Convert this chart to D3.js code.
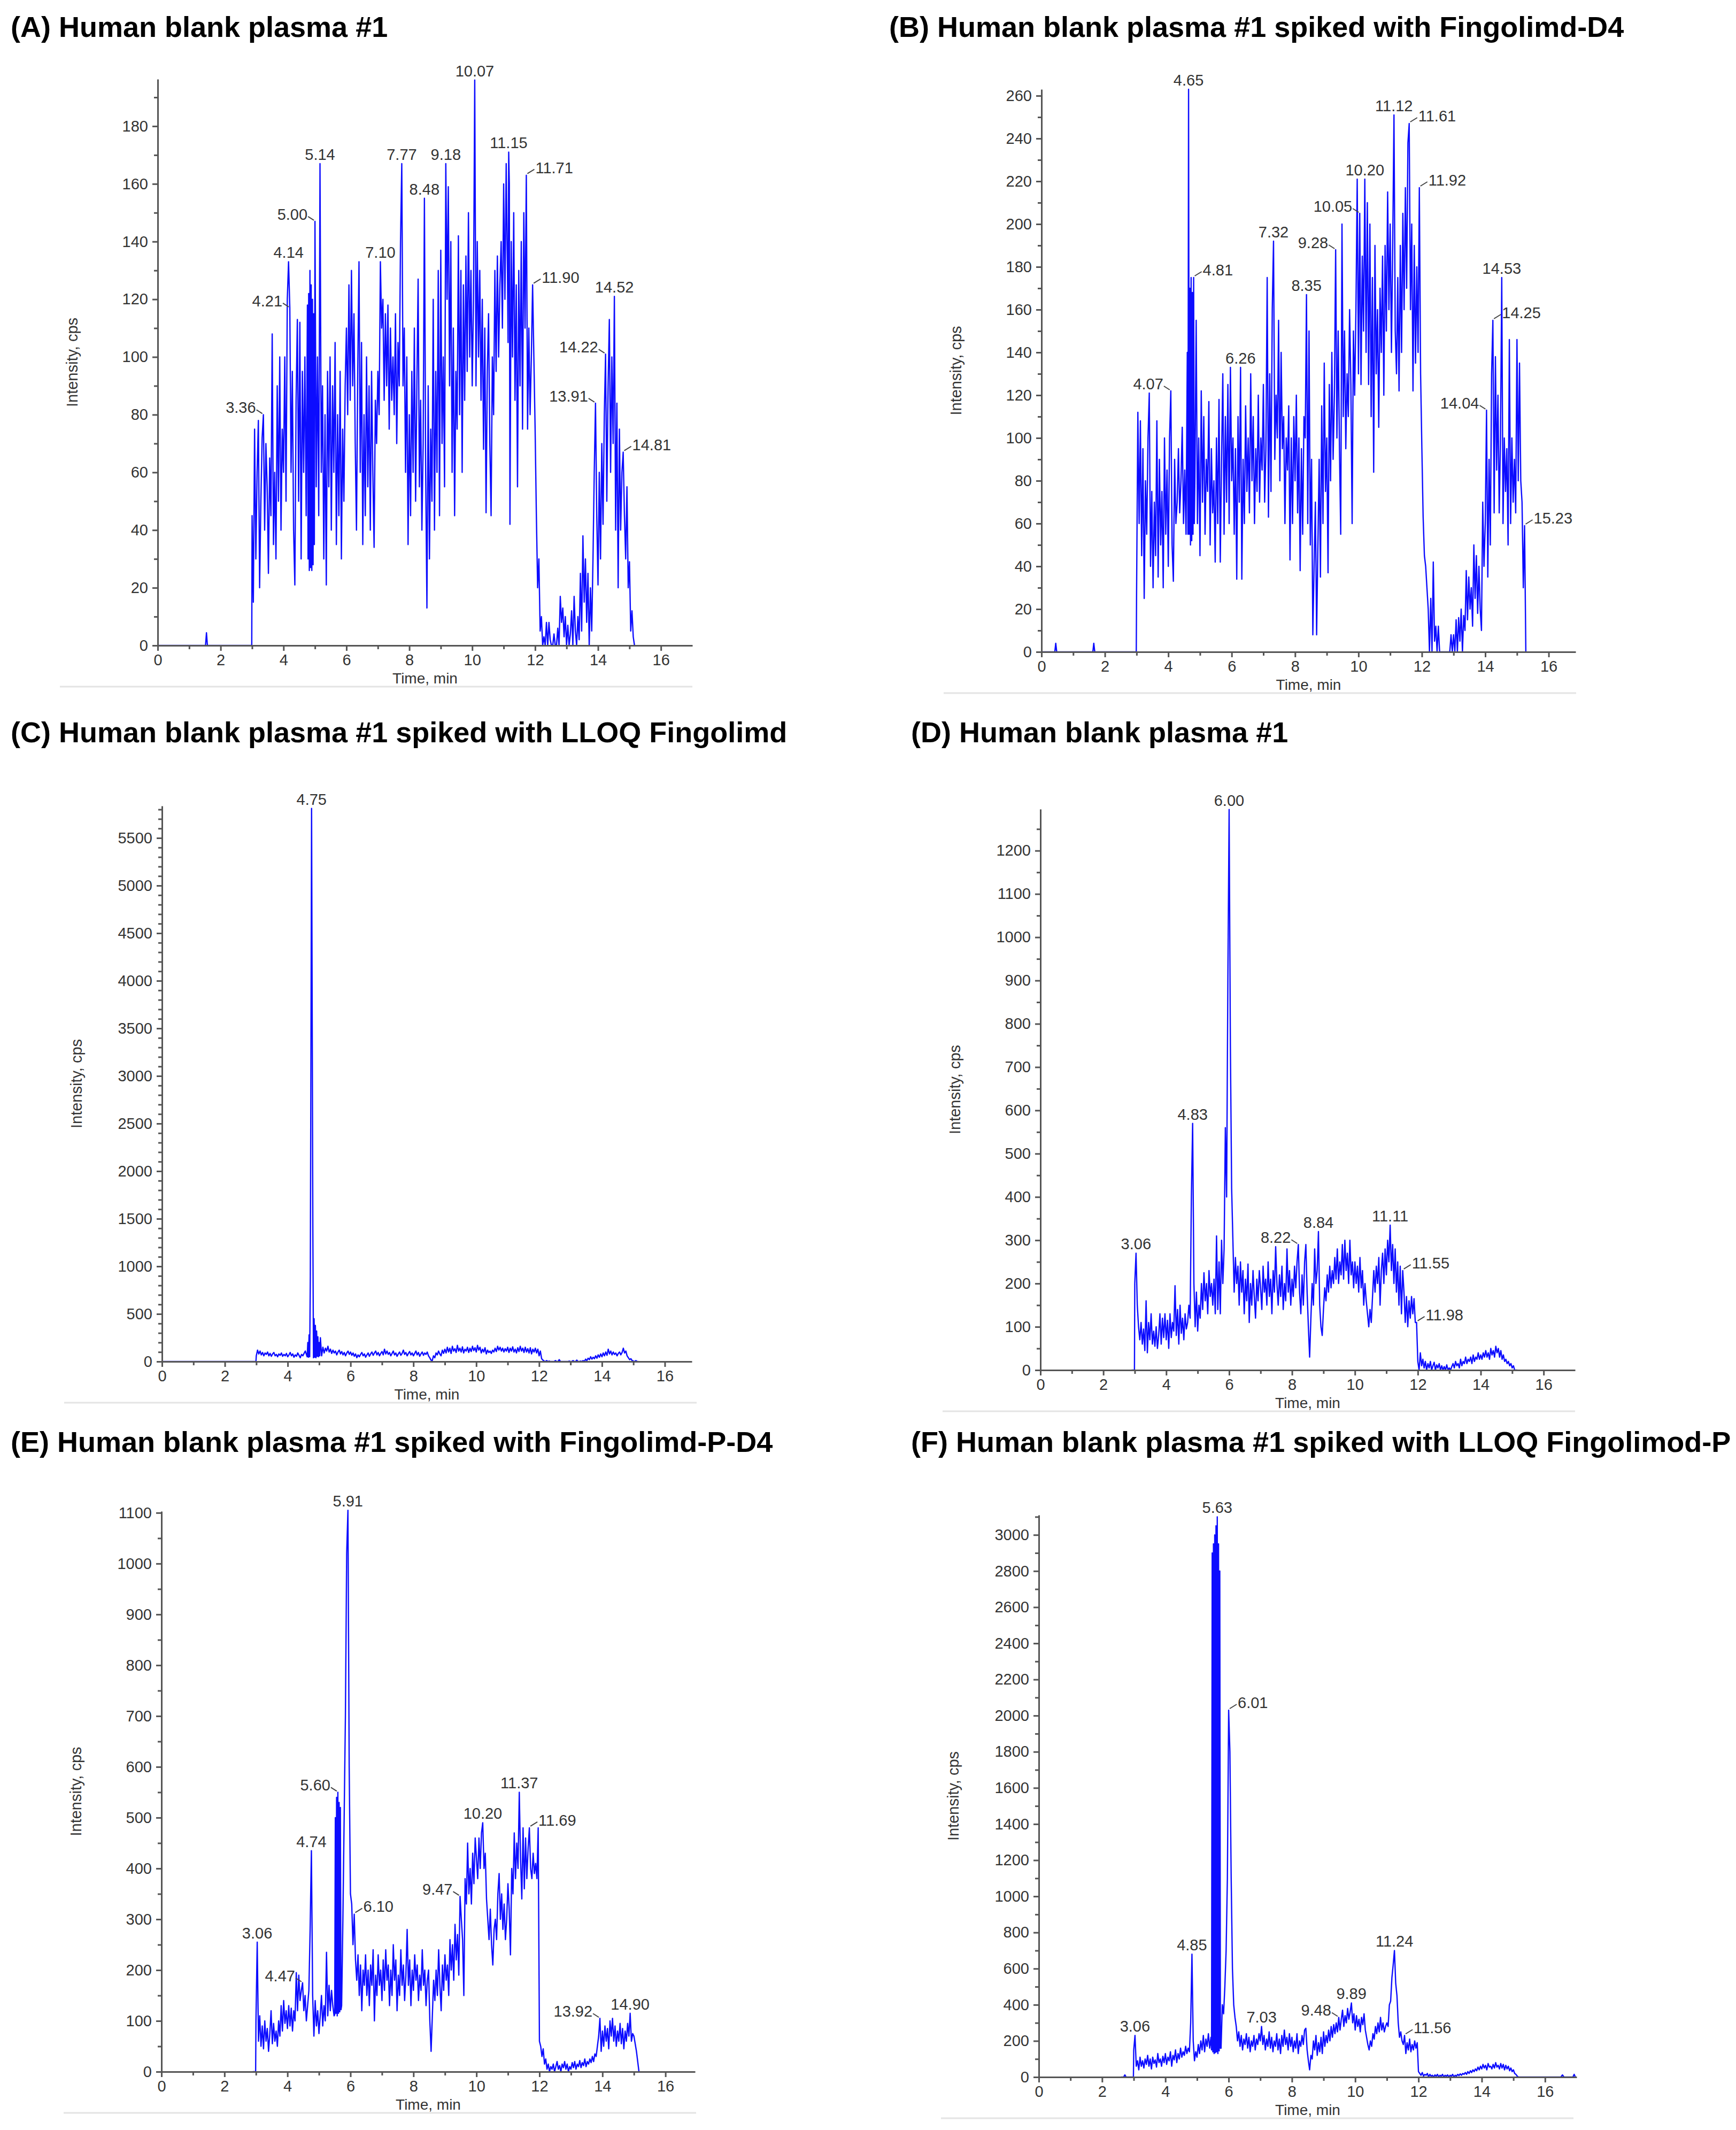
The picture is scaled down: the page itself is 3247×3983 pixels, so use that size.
<!DOCTYPE html>
<html><head><meta charset="utf-8">
<script src="https://cdn.jsdelivr.net/npm/d3@7"></script>
<style>body{margin:0;background:#fff}svg{display:block}</style>
</head><body>
<svg id="c" width="3247" height="3983"></svg>
<script>
// ---------------- DATA ----------------
const titles = [
  "(A) Human blank plasma #1",
  "(B) Human blank plasma #1 spiked with Fingolimd-D4",
  "(C) Human blank plasma #1 spiked with LLOQ Fingolimd",
  "(D) Human blank plasma #1",
  "(E) Human blank plasma #1 spiked with Fingolimd-P-D4",
  "(F) Human blank plasma #1 spiked with LLOQ Fingolimod-P"
];
const xAxisTitle = "Time, min";
const yAxisTitle = "Intensity, cps";
const xTickLabels = [0, 2, 4, 6, 8, 10, 12, 14, 16];

// sampling grid of each trace (min)
const gridStart = 3.0, gridStep = 0.04;

// axis ranges per panel (A..F)
const xMax = [17, 16.85, 16.86, 17, 16.94, 17];
const yMax = [196.3, 263, 5837, 1296, 1103, 3110];
const yMajorStep = [20, 20, 500, 100, 100, 200];
const yMinorStep = [10, 10, 100, 50, 50, 100];

// intensities (cps) from 3.00 min every 0.04 min
const intensityA = [
 45,15,75,30,60,78,20,50,72,80,40,70,55,25,65,45,108,35,60,30,90,50,100,40,75,
 60,100,50,120,133,117,60,95,40,21,85,113,50,112,30,95,60,100,45,118,122,130,125,120,115,
 147,55,100,45,167,60,90,30,80,21,95,55,100,40,90,60,105,35,80,45,95,30,75,50,90,
 110,80,125,85,130,90,115,70,40,95,133,60,105,35,80,45,100,55,90,40,95,60,34,85,70,
 95,80,133,110,120,85,115,90,118,75,110,85,100,80,115,70,105,90,140,167,90,110,60,100,35,
 80,45,95,60,110,50,90,127,55,85,40,70,155,60,13,90,30,75,50,120,40,95,60,130,45,
 137,70,100,55,167,120,159,90,140,60,110,45,95,75,142,80,130,60,125,85,135,95,150,100,130,
 90,120,196,90,140,100,130,85,120,68,110,46,95,115,70,45,100,80,130,95,135,100,125,140,110,
 160,120,167,130,171,42,140,100,150,85,125,55,130,90,140,75,150,110,163,75,110,80,100,125,100,
 75,45,20,30,5,10,0,3,0,8,0,8,2,0,0,4,0,0,6,0,17,8,13,3,10,
 0,7,0,4,12,0,17,5,0,10,2,25,5,38,15,30,8,25,0,20,5,30,60,84,45,
 21,60,30,70,42,80,101,50,90,113,60,100,70,121,40,84,20,75,40,60,67,45,30,55,20,
 29,5,12,3,0
];
const extraA = [[0,0],[1.52,0],[1.55,4.4],[1.58,0],[2.99,0],
  [4.78,30],[4.82,26],[4.86,27],[4.90,26],[4.94,28],[4.98,35],[11.14,105],[11.18,160]];
const peaksA = [["3.36","l"],["4.14","c"],["4.21","l"],["5.00","l"],["5.14","c"],["7.10","c"],["7.77","c"],["8.48","c"],["9.18","c"],["10.07","c"],["11.15","c"],["11.71","r"],["11.90","r"],["13.91","l"],["14.22","l"],["14.52","c"],["14.81","r"]];

const intensityB = [
 28,112,60,108,45,95,25,80,55,100,121,40,75,30,70,45,108,35,90,50,75,30,100,55,85,
 40,100,122,50,33,90,60,70,95,65,80,105,60,85,55,140,263,170,175,168,175,80,155,60,100,
 45,122,70,110,55,90,75,117,50,95,65,80,42,100,60,118,42,90,130,55,110,70,125,60,133,
 80,100,55,95,34,110,70,133,34,90,60,115,75,100,65,130,80,110,60,95,75,120,70,100,85,
 125,70,95,175,63,130,75,160,192,90,120,100,155,80,140,95,110,60,100,85,115,43,100,60,110,
 80,120,65,100,38,95,55,110,100,167,60,150,50,90,8,40,70,8,50,90,35,115,60,135,75,
 100,37,125,80,140,90,120,188,100,150,95,55,200,110,150,95,130,110,160,125,60,150,120,160,221,
 130,205,125,185,150,221,140,210,125,200,110,175,84,190,130,160,105,170,140,185,120,190,150,215,160,
 200,140,190,251,150,130,175,122,190,140,205,160,217,170,238,247,160,200,122,190,135,180,140,217,130,
 95,63,45,40,30,20,0,25,0,42,5,12,0,12,0,0,0,0,0,0,0,0,0,8,0,
 8,0,15,0,16,5,20,0,17,10,38,15,35,20,30,12,50,25,45,18,40,20,10,70,40,
 60,113,35,90,50,130,155,65,138,85,120,65,100,175,60,100,75,95,50,146,60,100,70,90,65,
 146,80,135,80,70,30,59,0
];
const extraB = [[0,0],[0.42,0],[0.45,4],[0.48,0],[1.62,0],[1.65,4],[1.68,0],[2.99,0],
  [4.62,55],[4.66,55],[4.70,50],[4.74,52],[4.78,55],[4.82,60]];
const peaksB = [["4.07","l"],["4.65","c"],["4.81","r"],["6.26","c"],["7.32","c"],["8.35","c"],["9.28","l"],["10.05","l"],["10.20","c"],["11.12","c"],["11.61","r"],["11.92","r"],["14.04","l"],["14.25","r"],["14.53","c"],["15.23","r"]];

const intensityC = [
 60,120,80,110,70,95,60,90,75,100,60,85,55,80,95,60,75,50,80,65,90,55,75,60,85,
 50,70,95,60,80,45,70,55,90,65,40,75,60,85,110,70,200,280,900,5810,1400,450,380,320,260,
 200,250,60,150,90,140,110,160,100,130,85,120,90,110,70,100,120,80,105,70,95,60,90,110,75,
 100,65,90,55,80,40,70,50,75,95,60,80,45,70,90,55,80,100,65,90,110,70,95,60,85,
 105,70,130,80,110,75,95,60,85,110,70,90,55,80,100,65,85,120,75,95,60,85,105,70,90,
 60,85,110,70,95,55,80,100,65,90,75,100,60,40,15,10,60,40,90,70,110,80,60,120,85,
 130,90,150,100,140,85,160,110,135,95,170,110,140,100,155,90,130,110,150,95,140,105,160,115,145,
 100,170,120,150,90,130,100,145,80,120,95,110,85,120,100,140,105,160,120,150,110,140,100,135,110,
 150,95,140,110,155,100,130,90,145,105,160,110,140,95,150,100,135,90,145,80,130,100,140,90,130,
 60,110,30,15,5,0,10,0,5,0,0,0,0,10,0,0,20,0,0,0,0,0,0,0,5,
 0,0,10,0,0,15,0,0,5,0,10,0,25,10,35,20,50,25,45,30,60,35,70,45,80,
 50,90,60,100,65,130,80,110,70,100,75,90,60,85,100,70,95,140,90,110,60,40,20,30,10,
 5,0,10,0,0
];
const extraC = [[0,0],[2.99,0],
  [4.62,50],[4.66,45],[4.70,50],[4.82,40],[4.86,45],[4.90,40],[4.94,55],[4.98,50],[5.02,60]];
const peaksC = [["4.75","c"]];

const intensityD = [
 200,270,150,100,70,110,60,95,45,160,40,110,70,130,60,90,55,100,50,80,130,60,120,75,130,
 70,115,50,130,75,110,90,195,80,140,60,150,85,120,70,130,95,110,150,120,400,570,200,100,180,
 90,150,120,200,140,225,160,200,130,230,170,200,150,210,130,310,140,250,130,300,200,280,560,400,900,
 1295,750,420,300,180,260,200,240,150,250,180,230,130,210,160,245,110,200,150,230,170,120,210,160,230,
 190,140,240,180,210,150,250,170,210,130,230,180,285,200,150,220,170,240,140,200,160,280,180,230,150,
 210,170,240,190,250,290,180,130,220,150,250,290,180,100,30,120,200,150,280,200,230,320,150,100,80,
 140,190,160,220,180,240,190,230,200,260,210,280,200,250,220,290,210,300,230,270,200,300,220,250,190,
 250,200,240,180,260,190,230,150,200,160,130,100,140,110,170,230,180,240,200,260,150,230,270,200,280,
 220,300,250,335,230,290,200,280,180,250,150,240,130,230,180,110,170,100,160,120,170,130,165,110,110,
 20,0,40,10,25,5,20,0,15,5,20,0,10,18,0,12,5,15,0,10,0,8,0,12,0,
 5,0,8,15,5,20,10,15,5,25,10,20,15,30,15,25,20,30,15,35,20,30,25,40,25,
 35,25,40,30,45,30,40,25,50,35,45,30,55,40,50,30,45,25,35,20,25,15,20,10,15,
 5,10,0,0,0
];
const extraD = [[2.9,0],[2.99,0]];
const peaksD = [["3.06","c"],["4.83","c"],["6.00","c"],["8.22","l"],["8.84","c"],["11.11","c"],["11.55","r"],["11.98","r"]];

const intensityE = [
 100,255,60,110,50,90,45,100,60,85,40,75,120,55,95,60,80,50,100,70,130,80,140,95,120,
 85,130,90,125,80,120,100,195,120,190,140,160,175,120,150,100,130,160,280,435,150,70,140,90,120,
 75,110,150,90,130,100,235,110,170,120,160,130,110,500,540,550,530,520,130,300,500,700,1020,1105,600,
 350,330,250,310,220,180,230,150,210,120,200,170,230,150,200,130,210,170,240,100,190,150,230,170,200,
 140,220,160,240,180,210,130,200,150,250,180,220,120,190,150,240,170,210,140,190,280,170,220,130,200,
 160,230,180,210,140,190,160,240,170,200,130,180,200,100,40,110,180,140,200,150,240,170,120,210,160,
 230,180,210,150,260,200,250,180,290,220,270,190,345,300,260,150,380,330,450,350,400,330,430,370,460,
 420,380,460,400,470,490,400,430,340,300,260,320,250,210,280,300,260,350,390,300,350,280,330,260,300,
 370,320,230,400,350,470,380,450,400,550,420,340,480,360,460,380,440,480,400,380,430,390,410,380,480,
 60,50,30,45,15,25,5,15,0,10,5,15,0,10,20,5,12,0,15,8,20,5,15,0,10,
 5,18,8,20,5,15,10,22,8,18,12,25,10,20,15,25,18,30,20,35,30,50,70,105,40,
 80,50,90,60,85,45,100,70,105,60,90,50,80,60,95,55,85,45,80,60,95,70,115,60,75,
 70,55,40,20,0
];
const extraE = [[2.9,0],[2.99,0],
  [5.50,112],[5.54,115],[5.58,110],[5.62,115],[5.66,118],[5.70,122]];
const peaksE = [["3.06","c"],["4.47","l"],["4.74","c"],["5.60","l"],["5.91","c"],["6.10","r"],["9.47","l"],["10.20","c"],["11.37","c"],["11.69","r"],["13.92","l"],["14.90","c"]];

const intensityF = [
 150,230,60,90,40,110,60,90,50,100,70,120,60,100,45,110,75,95,55,130,80,100,60,115,80,
 130,70,110,90,140,60,120,95,150,80,130,100,160,110,140,120,170,130,160,140,300,680,200,90,140,
 110,180,130,200,150,230,140,210,170,240,160,220,2900,2950,3000,3050,3100,2950,2800,160,400,350,500,700,1100,
 2030,1800,1100,600,400,330,280,200,250,170,230,150,210,180,240,160,220,140,200,170,230,150,210,180,240,
 200,280,180,230,150,210,170,250,160,220,140,200,170,240,150,210,130,230,170,260,180,220,150,240,170,
 220,140,200,160,240,130,200,170,230,180,260,270,150,90,40,120,100,200,150,230,120,190,140,220,130,
 250,170,230,190,260,200,280,220,290,240,300,250,330,260,320,370,280,340,300,380,320,360,410,300,350,
 260,340,280,320,250,330,290,350,260,220,180,150,200,170,240,210,280,240,300,250,330,260,300,250,280,
 300,280,400,420,550,620,700,520,450,300,220,250,200,180,230,130,190,150,210,140,180,150,200,160,190,
 30,20,10,25,5,15,10,20,0,15,5,10,0,12,5,15,0,10,5,15,0,10,5,12,0,
 10,5,15,0,10,5,15,8,18,10,20,15,25,15,30,20,35,25,40,30,45,35,55,40,60,
 45,70,50,65,40,75,55,60,45,70,50,80,55,65,45,75,50,70,40,65,45,60,35,50,30,
 40,20,15,5,0
];
const extraF = [[2.6,0],[2.68,0],[2.72,12],[2.76,0],[2.99,0],
  [5.46,150],[5.50,140],[5.54,130],[5.58,135],[5.62,140],[5.66,130],[5.70,145],[5.74,160],
  [16.5,0],[16.55,12],[16.6,0],[16.88,0],[16.92,15],[16.96,0]];
const peaksF = [["3.06","c"],["4.85","c"],["5.63","c"],["6.01","r"],["7.03","c"],["9.48","l"],["9.89","c"],["11.24","c"],["11.56","r"]];

// ---------------- LAYOUT (pixels) ----------------
const layout = [
  {x0: 295,  x1: 1295, y0: 1207, y1: 148,  tx: 20,   ty: 69},
  {x0: 1948, x1: 2947, y0: 1219, y1: 167,  tx: 1663, ty: 69},
  {x0: 303,  x1: 1294, y0: 2546, y1: 1507, tx: 20,   ty: 1388},
  {x0: 1946, x1: 2946, y0: 2562, y1: 1513, tx: 1704, ty: 1388},
  {x0: 302,  x1: 1300, y0: 3874, y1: 2826, tx: 20,   ty: 2715},
  {x0: 1943, x1: 2949, y0: 3884, y1: 2833, tx: 1704, ty: 2715}
];

const seriesVals = [intensityA, intensityB, intensityC, intensityD, intensityE, intensityF];
const seriesExtra = [extraA, extraB, extraC, extraD, extraE, extraF];
const seriesPeaks = [peaksA, peaksB, peaksC, peaksD, peaksE, peaksF];

// ---------------- DRAW ----------------
const FONT = '"Liberation Sans", Arial, Helvetica, sans-serif';
const svg = d3.select('#c');
svg.append('rect').attr('width', 3247).attr('height', 3983).attr('fill', '#fff');

layout.forEach((L, k) => {
  const x = d3.scaleLinear().domain([0, xMax[k]]).range([L.x0, L.x1]);
  const y = d3.scaleLinear().domain([0, yMax[k]]).range([L.y0, L.y1]);
  const grid = seriesVals[k].map((v, i) => [gridStart + i * gridStep, v]);
  const pts = grid.concat(seriesExtra[k]).sort((a, b) => a[0] - b[0]);

  const g = svg.append('g');

  // light separator line under the plot
  g.append('line')
    .attr('x1', L.x0 - 183).attr('x2', L.x0 + 1000)
    .attr('y1', L.y0 + 77).attr('y2', L.y0 + 77)
    .attr('stroke', '#e4e4e4').attr('stroke-width', 3);

  // trace
  const line = d3.line().x(d => x(d[0])).y(d => y(d[1]));
  g.append('path').datum(pts)
    .attr('d', line)
    .attr('fill', 'none')
    .attr('stroke', '#0c0cff')
    .attr('stroke-width', 2.4)
    .attr('stroke-linejoin', 'round');

  // axes
  const styleAxis = sel => {
    sel.selectAll('path,line').attr('stroke', '#555').attr('stroke-width', 3);
    sel.selectAll('text').attr('font-family', FONT).attr('font-size', 29).attr('fill', '#333');
  };
  const xMajor = d3.axisBottom(x).tickValues(xTickLabels).tickSize(10).tickPadding(6).tickSizeOuter(0).tickFormat(d3.format('d'));
  const xMinorVals = d3.range(1, xMax[k] - 0.05, 2);
  const xMinor = d3.axisBottom(x).tickValues(xMinorVals).tickSize(7).tickFormat('');
  const yMajVals = d3.range(0, yMax[k] + 1e-6, yMajorStep[k]);
  const yMinVals = d3.range(yMinorStep[k], yMax[k] + 1e-6, yMinorStep[k]).filter(v => Math.abs(v / yMajorStep[k] - Math.round(v / yMajorStep[k])) > 1e-6);
  const yMajor = d3.axisLeft(y).tickValues(yMajVals).tickSize(10).tickPadding(8).tickSizeOuter(0).tickFormat(d3.format('d'));
  const yMinor = d3.axisLeft(y).tickValues(yMinVals).tickSize(7).tickFormat('');

  const gxm = g.append('g').attr('transform', `translate(0,${L.y0})`).call(xMinor); gxm.select('.domain').remove(); styleAxis(gxm);
  const gym = g.append('g').attr('transform', `translate(${L.x0},0)`).call(yMinor); gym.select('.domain').remove(); styleAxis(gym);
  const gx = g.append('g').attr('transform', `translate(0,${L.y0})`).call(xMajor); styleAxis(gx);
  const gy = g.append('g').attr('transform', `translate(${L.x0},0)`).call(yMajor); styleAxis(gy);

  // axis titles
  g.append('text').text(xAxisTitle)
    .attr('x', (L.x0 + L.x1) / 2).attr('y', L.y0 + 71)
    .attr('text-anchor', 'middle').attr('font-family', FONT).attr('font-size', 28).attr('fill', '#333');
  g.append('text').text(yAxisTitle)
    .attr('transform', `translate(${L.x0 - 150},${(L.y0 + L.y1) / 2}) rotate(-90)`)
    .attr('text-anchor', 'middle').attr('font-family', FONT).attr('font-size', 29).attr('fill', '#333');

  // peak labels
  seriesPeaks[k].forEach(([txt, side]) => {
    const t = +txt;
    const cand = grid.filter(p => Math.abs(p[0] - t) <= 0.031);
    const pk = cand.reduce((a, b) => (b[1] > a[1] ? b : a));
    const px = x(pk[0]), py = y(pk[1]);
    const lab = g.append('text').text(txt)
      .attr('font-family', FONT).attr('font-size', 29).attr('fill', '#333');
    if (side === 'c') {
      lab.attr('x', px).attr('y', py - 7).attr('text-anchor', 'middle');
    } else if (side === 'l') {
      lab.attr('x', px - 14).attr('y', py - 3).attr('text-anchor', 'end');
      g.append('line').attr('x1', px - 13).attr('y1', py - 9).attr('x2', px - 2).attr('y2', py - 2)
        .attr('stroke', '#444').attr('stroke-width', 2);
    } else {
      lab.attr('x', px + 17).attr('y', py - 4).attr('text-anchor', 'start');
      g.append('line').attr('x1', px + 2).attr('y1', py - 3).attr('x2', px + 15).attr('y2', py - 11)
        .attr('stroke', '#444').attr('stroke-width', 2);
    }
  });

  // panel title
  svg.append('text').text(titles[k])
    .attr('x', L.tx).attr('y', L.ty)
    .attr('font-family', FONT).attr('font-weight', 'bold').attr('font-size', 54).attr('fill', '#000');
});
</script>
</body></html>
